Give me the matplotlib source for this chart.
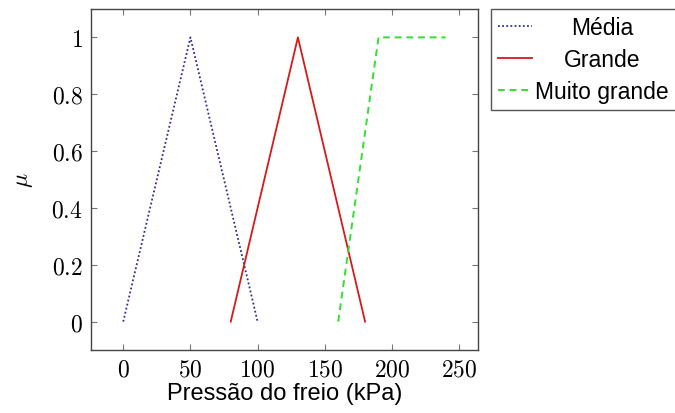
import numpy as np
import matplotlib
matplotlib.use("Agg")
import matplotlib.pyplot as plt
from matplotlib.ticker import FuncFormatter

# dados das funcoes de pertinencia
media_x = [0, 50, 100]
media_y = [0, 1, 0]
grande_x = [80, 130, 180]
grande_y = [0, 1, 0]
muito_x = [160, 190, 240]
muito_y = [0, 1, 1]
labels = ["Média", "Grande", "Muito grande"]

plt.rcParams['mathtext.fontset'] = 'cm'
plt.rcParams['font.family'] = ['Liberation Sans', 'DejaVu Sans']

fig = plt.figure(figsize=(6.75, 4.14), dpi=100)
ax = fig.add_axes([0.1348, 0.152, 0.5733, 0.824])

ax.plot(media_x, media_y, color='#2e2e9a', lw=1.3, linestyle=(0, (1, 1.3)), label=labels[0])
ax.plot(grande_x, grande_y, color='#d41a1a', lw=1.3, label=labels[1])
ax.plot(muito_x, muito_y, color='#33dd33', lw=1.4, linestyle=(0, (3.5, 2.5)), label=labels[2])

ax.set_xlim(-24, 264)
ax.set_ylim(-0.1, 1.1)
ax.set_xticks([0, 50, 100, 150, 200, 250])
ax.set_yticks([0, 0.2, 0.4, 0.6, 0.8, 1])
ax.xaxis.set_major_formatter(FuncFormatter(lambda v, p: r'$%g$' % v))
ax.yaxis.set_major_formatter(FuncFormatter(lambda v, p: r'$%g$' % v))
ax.tick_params(direction='in', top=True, right=True, length=4, width=0.8,
               color='#777777', labelsize=17)
ax.tick_params(axis='x', pad=6)
ax.tick_params(axis='y', pad=6)
for s in ax.spines.values():
    s.set_color('#444444')
    s.set_linewidth(1.0)

ax.set_xlabel('Pressão do freio (kPa)', fontsize=17, labelpad=1)
ax.set_ylabel(r'$\mu$', fontsize=17, labelpad=12)

leg = fig.legend(loc='upper left', bbox_to_anchor=(0.727, 0.976), fontsize=16.5,
                 fancybox=False, framealpha=1, edgecolor='#555555',
                 handlelength=1.5, handletextpad=0.15, labelspacing=0.4,
                 borderpad=0.3, borderaxespad=0)
leg.get_frame().set_linewidth(1.0)

# centraliza os textos da legenda como no pgfplots
fig.canvas.draw()
renderer = fig.canvas.get_renderer()
larguras = [t.get_window_extent(renderer).width for t in leg.get_texts()]
maior = max(larguras)
for t, w in zip(leg.get_texts(), larguras):
    t.set_position(((maior - w) / 2, 0))

fig.savefig('out.png', dpi=100)
